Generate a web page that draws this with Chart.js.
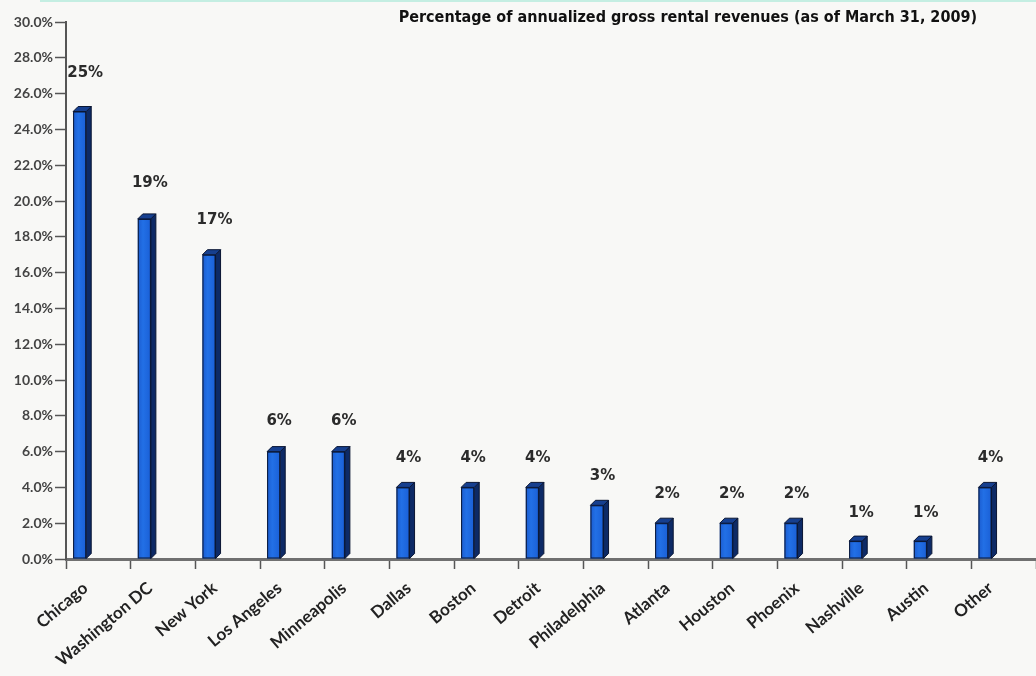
<!DOCTYPE html>
<html>
<head>
<meta charset="utf-8">
<script src="https://cdn.jsdelivr.net/npm/chart.js@4.4.1/dist/chart.umd.min.js"></script>
<style>
  html, body { margin: 0; padding: 0; background: #f8f8f6; }
  #wrap { position: relative; width: 1036px; height: 676px; }
</style>
</head>
<body>
<div id="wrap"><canvas id="chart" width="1036" height="676"></canvas></div>
<script>
const cities = ['Chicago', 'Washington DC', 'New York', 'Los Angeles', 'Minneapolis', 'Dallas',
    'Boston', 'Detroit', 'Philadelphia', 'Atlanta', 'Houston', 'Phoenix', 'Nashville', 'Austin', 'Other'];
const revenueShare = [25, 19, 17, 6, 6, 4, 4, 4, 3, 2, 2, 2, 1, 1, 4];
const titleText = 'Percentage of annualized gross rental revenues (as of March 31, 2009)';

const DEPTH = 5;

// background + thin teal rule along the top edge
const backdrop = {
    id: 'backdrop',
    beforeDraw(chart) {
        const ctx = chart.ctx;
        ctx.save();
        ctx.fillStyle = '#f8f8f6';
        ctx.fillRect(0, 0, chart.width, chart.height);
        ctx.fillStyle = '#c4eee2';
        ctx.fillRect(40, 0, chart.width - 40, 2);
        ctx.restore();
    }
};

// fake 3D: side and top faces on each bar, value labels above
const bars3d = {
    id: 'bars3d',
    afterDatasetsDraw(chart) {
        const ctx = chart.ctx;
        const meta = chart.getDatasetMeta(0);
        ctx.save();
        meta.data.forEach((bar, i) => {
            const half = bar.width / 2;
            const x0 = bar.x - half;
            const x1 = bar.x + half;
            const xf = x1 - DEPTH;
            const top = bar.y;
            const bottom = bar.base;

            ctx.lineWidth = 1;
            ctx.strokeStyle = '#0a1633';

            // front face highlight
            const grad = ctx.createLinearGradient(x0, 0, xf, 0);
            grad.addColorStop(0, '#1b5cd0');
            grad.addColorStop(0.4, '#2270e6');
            grad.addColorStop(1, '#1a5fd6');
            ctx.fillStyle = grad;
            ctx.fillRect(x0, top, xf - x0, bottom - top);
            ctx.strokeRect(x0 + 0.5, top + 0.5, xf - x0 - 1, bottom - top - 1);

            // side face
            ctx.beginPath();
            ctx.moveTo(xf, top);
            ctx.lineTo(x1, top - DEPTH);
            ctx.lineTo(x1, bottom - DEPTH);
            ctx.lineTo(xf, bottom);
            ctx.closePath();
            ctx.fillStyle = '#0d2a66';
            ctx.fill();
            ctx.stroke();

            // top face
            ctx.beginPath();
            ctx.moveTo(x0, top);
            ctx.lineTo(x0 + DEPTH, top - DEPTH);
            ctx.lineTo(x1, top - DEPTH);
            ctx.lineTo(xf, top);
            ctx.closePath();
            ctx.fillStyle = '#163f8f';
            ctx.fill();
            ctx.stroke();

            // value label
            const v = revenueShare[i];
            ctx.fillStyle = '#2b2b2b';
            ctx.font = 'bold 15px "DejaVu Sans"';
            ctx.textAlign = 'center';
            ctx.textBaseline = 'middle';
            ctx.fillText(v + '%', bar.x + 3, top - (28 + 0.4 * v));
        });
        ctx.restore();
    }
};

const titleBox = {
    id: 'titleBox',
    afterDraw(chart) {
        const ctx = chart.ctx;
        ctx.save();
        ctx.fillStyle = '#111';
        ctx.font = 'bold 16px "DejaVu Sans Condensed", "DejaVu Sans"';
        ctx.textAlign = 'right';
        ctx.textBaseline = 'alphabetic';
        ctx.fillText(titleText, 977, 22);
        ctx.restore();
    }
};

new Chart(document.getElementById('chart'), {
    type: 'bar',
    data: {
        labels: cities,
        datasets: [
            {
                label: 'Share',
                data: revenueShare,
                backgroundColor: 'rgba(0,0,0,0)',
                borderWidth: 0,
                barPercentage: 0.56,
                categoryPercentage: 1
            },
            {
                // empty slot that pushes the bars to the left half of each category
                label: 'spacer',
                data: cities.map(() => null),
                backgroundColor: 'rgba(0,0,0,0)',
                barPercentage: 0.56,
                categoryPercentage: 1
            }
        ]
    },
    options: {
        responsive: false,
        animation: false,
        layout: { padding: { top: 22, right: 0, left: 0, bottom: 0 } },
        plugins: {
            legend: { display: false },
            tooltip: { enabled: false }
        },
        scales: {
            x: {
                offset: true,
                grid: {
                    offset: true,
                    drawOnChartArea: false,
                    drawTicks: true,
                    tickLength: 10,
                    tickColor: '#555',
                    tickWidth: 1.5
                },
                border: { display: true, color: '#707070', width: 3 },
                ticks: {
                    autoSkip: false,
                    minRotation: 40,
                    maxRotation: 40,
                    labelOffset: -13,
                    padding: 9,
                    color: '#222',
                    font: { family: 'Lato', weight: 'bold', size: 17 }
                },
                afterFit(scale) { scale.height = 676 - 559; }
            },
            y: {
                min: 0,
                max: 30,
                grid: {
                    drawOnChartArea: false,
                    drawTicks: true,
                    tickLength: 11,
                    tickColor: '#555',
                    tickWidth: 1.5
                },
                border: { display: true, color: '#555', width: 2 },
                ticks: {
                    stepSize: 2,
                    padding: 2,
                    color: '#444',
                    font: { family: 'Lato', weight: 'bold', size: 14 },
                    callback: (v) => v.toFixed(1) + '%'
                },
                afterFit(scale) { scale.width = 66; }
            }
        }
    },
    plugins: [backdrop, bars3d, titleBox]
});
</script>
</body>
</html>
